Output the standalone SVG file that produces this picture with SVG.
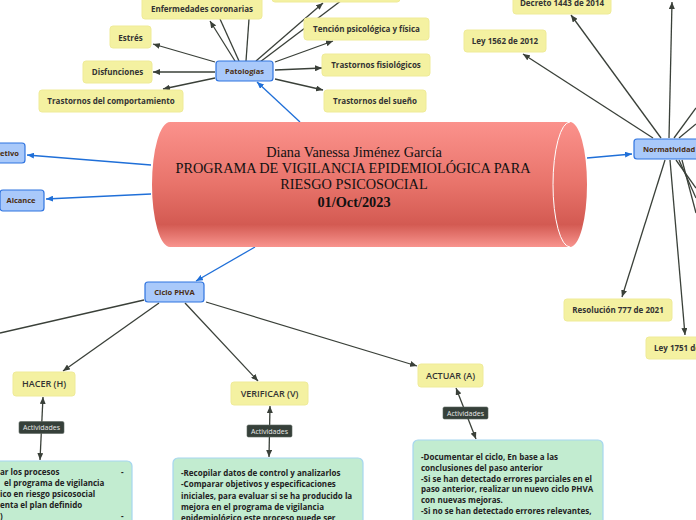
<svg xmlns="http://www.w3.org/2000/svg" width="696" height="520" viewBox="0 0 696 520">
<style>
.y{fill:#f4f1a1;stroke:#efeb98;stroke-width:1}
.b{fill:#a9c9fa;stroke:#2f74e0;stroke-width:1.2}
.g{fill:#c2ecd0;stroke:#a6d6f0;stroke-width:1.2}
.a{fill:#36403a;stroke:#5b655e;stroke-width:0.6}
.ty{font-family:"Open Sans","Noto Sans",sans-serif;font-weight:700;font-size:8px;fill:#333;text-anchor:middle}
.tb{font-family:"Open Sans","Noto Sans",sans-serif;font-weight:700;font-size:7.5px;fill:#4a2c10;text-anchor:middle}
.th{font-family:"Open Sans","Noto Sans",sans-serif;font-weight:600;font-size:9px;fill:#333;text-anchor:middle}
.ta{font-family:"Open Sans","Noto Sans",sans-serif;font-size:7px;fill:#e8e8e8;text-anchor:middle}
.tg{font-family:"Open Sans","Noto Sans",sans-serif;font-weight:700;font-size:8px;fill:#222}
.tc{font-family:"Liberation Serif","Times New Roman",serif;font-size:14.3px;fill:#111;text-anchor:middle}
.dk{stroke:#3a4039;stroke-width:1.3;fill:none}
.bl{stroke:#1f6fd8;stroke-width:1.3;fill:none}
</style>
<defs>
<marker id="ad" markerUnits="userSpaceOnUse" markerWidth="8" markerHeight="6" refX="7" refY="3" orient="auto-start-reverse"><path d="M0,0 L7,3 L0,6 z" fill="#3a4039"/></marker>
<marker id="ab" markerUnits="userSpaceOnUse" markerWidth="8" markerHeight="6" refX="7" refY="3" orient="auto"><path d="M0,0 L7,3 L0,6 z" fill="#1f6fd8"/></marker>
<linearGradient id="cyl" x1="0" y1="0" x2="0" y2="1">
<stop offset="0" stop-color="#fb928c"/>
<stop offset="0.5" stop-color="#e8736a"/>
<stop offset="0.82" stop-color="#d35a52"/>
<stop offset="1" stop-color="#f8948e"/>
</linearGradient>
</defs>

<g id="connectors">
<line class="dk" x1="215" y1="62" x2="153" y2="44" marker-end="url(#ad)"/>
<line class="dk" x1="215" y1="72" x2="153" y2="72" marker-end="url(#ad)"/>
<line class="dk" x1="215" y1="78" x2="163" y2="89" marker-end="url(#ad)"/>
<line class="dk" x1="235" y1="61" x2="210" y2="21" marker-end="url(#ad)"/>
<line class="dk" x1="239" y1="61" x2="220" y2="19"/>
<line class="dk" x1="246" y1="61" x2="249" y2="19"/>
<line class="dk" x1="256" y1="61" x2="323" y2="3" marker-end="url(#ad)"/>
<line class="dk" x1="260" y1="62" x2="342" y2="0"/>
<line class="dk" x1="275" y1="62" x2="333" y2="41" marker-end="url(#ad)"/>
<line class="dk" x1="275" y1="70" x2="322" y2="68" marker-end="url(#ad)"/>
<line class="dk" x1="275" y1="79" x2="323" y2="90" marker-end="url(#ad)"/>

<line class="dk" x1="653" y1="138" x2="523" y2="54" marker-end="url(#ad)"/>
<line class="dk" x1="661" y1="138" x2="571" y2="15" marker-end="url(#ad)"/>
<line class="dk" x1="669" y1="138" x2="672" y2="2" marker-end="url(#ad)"/>
<line class="dk" x1="674" y1="138" x2="696" y2="108"/>
<line class="dk" x1="679" y1="138" x2="696" y2="124"/>
<line class="dk" x1="676" y1="160" x2="696" y2="188"/>
<line class="dk" x1="679" y1="160" x2="696" y2="198"/>
<line class="dk" x1="682" y1="160" x2="696" y2="213"/>
<line class="dk" x1="665" y1="160" x2="622" y2="297" marker-end="url(#ad)"/>
<line class="dk" x1="670" y1="160" x2="685" y2="335" marker-end="url(#ad)"/>

<line class="dk" x1="144" y1="300" x2="0" y2="333"/>
<line class="dk" x1="159" y1="303" x2="63" y2="371" marker-end="url(#ad)"/>
<line class="dk" x1="185" y1="303" x2="258" y2="381" marker-end="url(#ad)"/>
<line class="dk" x1="206" y1="302" x2="417" y2="366" marker-end="url(#ad)"/>

<line class="dk" x1="43" y1="397" x2="40" y2="460" marker-start="url(#ad)" marker-end="url(#ad)"/>
<line class="dk" x1="270" y1="406" x2="269" y2="457" marker-start="url(#ad)" marker-end="url(#ad)"/>
<line class="dk" x1="456" y1="388" x2="476" y2="439" marker-start="url(#ad)" marker-end="url(#ad)"/>

<line class="bl" x1="300" y1="122" x2="257" y2="82" marker-end="url(#ab)"/>
<line class="bl" x1="151" y1="165" x2="27" y2="155" marker-end="url(#ab)"/>
<line class="bl" x1="151" y1="194" x2="46" y2="199" marker-end="url(#ab)"/>
<line class="bl" x1="587" y1="158" x2="632" y2="154" marker-end="url(#ab)"/>
<line class="bl" x1="255" y1="247" x2="196" y2="281" marker-end="url(#ab)"/>
</g>

<g id="center">
<path d="M170,122 L570,122 A17,62.5 0 0 1 570,247 L170,247 A18,62.5 0 0 1 170,122 Z" fill="url(#cyl)"/>
<path d="M570,122 A17,62.5 0 0 0 570,247" fill="none" stroke="#fff" stroke-width="1"/>
<text class="tc" x="354" y="157">Diana Vanessa Jiménez García</text>
<text class="tc" x="353" y="173">PROGRAMA DE VIGILANCIA EPIDEMIOLÓGICA PARA</text>
<text class="tc" x="354" y="189">RIESGO PSICOSOCIAL</text>
<text class="tc" x="354" y="207" font-weight="700" font-size="15.5">01/Oct/2023</text>
</g>

<g id="patologias"><rect class="b" x="216" y="61" width="57" height="20" rx="3"/><text class="tb" x="244.5" y="73.7">Patologías</text></g>
<g id="enfermedades"><rect class="y" x="142" y="-3" width="120" height="22" rx="3"/><text class="ty" x="202" y="12">Enfermedades coronarias</text></g>
<g id="top-node"><rect class="y" x="272" y="-20" width="128" height="22" rx="3"/></g>
<g id="estres"><rect class="y" x="110" y="26" width="41" height="22" rx="3"/><text class="ty" x="130.5" y="40.5">Estrés</text></g>
<g id="disfunciones"><rect class="y" x="83" y="61" width="69" height="22" rx="3"/><text class="ty" x="117.5" y="75">Disfunciones</text></g>
<g id="comportamiento"><rect class="y" x="39" y="90" width="144" height="22" rx="3"/><text class="ty" x="111" y="103.5">Trastornos del comportamiento</text></g>
<g id="tencion"><rect class="y" x="304" y="18" width="125" height="22" rx="3"/><text class="ty" x="366.5" y="32">Tención psicológica y física</text></g>
<g id="fisiologicos"><rect class="y" x="322" y="54" width="108" height="22" rx="3"/><text class="ty" x="376" y="68">Trastornos fisiológicos</text></g>
<g id="sueno"><rect class="y" x="324" y="90" width="102" height="22" rx="3"/><text class="ty" x="375" y="103.5">Trastornos del sueño</text></g>

<g id="objetivo"><rect class="b" x="-20" y="143" width="45" height="20" rx="3"/><text class="tb" x="-13" y="155.7" style="text-anchor:start">Objetivo</text></g>
<g id="alcance"><rect class="b" x="0" y="190" width="44" height="21" rx="3"/><text class="tb" x="21" y="203.3">Alcance</text></g>

<g id="normatividad"><rect class="b" x="634" y="139" width="80" height="20" rx="3"/><text class="tb" x="643" y="151.7" style="text-anchor:start">Normatividad</text></g>
<g id="decreto"><rect class="y" x="513" y="-8" width="98" height="22" rx="3"/><text class="ty" x="562" y="6">Decreto 1443 de 2014</text></g>
<g id="ley1562"><rect class="y" x="464" y="30" width="82" height="22" rx="3"/><text class="ty" x="505" y="44">Ley 1562 de 2012</text></g>
<g id="resolucion"><rect class="y" x="564" y="299" width="108" height="22" rx="3"/><text class="ty" x="618" y="313">Resolución 777 de 2021</text></g>
<g id="ley1751"><rect class="y" x="646" y="337" width="90" height="22" rx="3"/><text class="ty" x="654" y="351" style="text-anchor:start">Ley 1751 de 2015</text></g>

<g id="ciclo"><rect class="b" x="145" y="282" width="59" height="20" rx="3"/><text class="tb" x="174.5" y="294.7">Ciclo PHVA</text></g>

<g id="hacer"><rect class="y" x="13" y="372" width="62" height="24" rx="3"/><text class="th" x="44" y="387.2">HACER (H)</text></g>
<g id="verificar"><rect class="y" x="231" y="382" width="77" height="23" rx="3"/><text class="th" x="269.5" y="396.7">VERIFICAR (V)</text></g>
<g id="actuar"><rect class="y" x="418" y="364" width="65" height="23" rx="3"/><text class="th" x="450.5" y="378.7">ACTUAR (A)</text></g>

<g id="act-hacer"><rect class="a" x="19" y="421.5" width="45" height="12" rx="1.5"/><text class="ta" x="41.5" y="430">Actividades</text></g>
<g id="act-verificar"><rect class="a" x="247" y="425" width="45" height="12" rx="1.5"/><text class="ta" x="269.5" y="433.5">Actividades</text></g>
<g id="act-actuar"><rect class="a" x="443" y="407" width="45" height="12" rx="1.5"/><text class="ta" x="465.5" y="415.5">Actividades</text></g>

<g id="txt-hacer"><rect class="g" x="-80" y="461" width="212" height="80" rx="5"/>
<text class="tg" x="0" y="475">ar los  procesos</text>
<text class="tg" x="121" y="475">-</text>
<text class="tg" x="4" y="486">el programa de vigilancia</text>
<text class="tg" x="0" y="497">ico en riesgo psicosocial</text>
<text class="tg" x="0" y="508">enta el plan definido</text>
<text class="tg" x="0" y="519">)</text>
<text class="tg" x="121" y="519">-</text>
</g>

<g id="txt-verificar"><rect class="g" x="173" y="458" width="190" height="80" rx="5"/>
<text class="tg" x="181" y="476">-Recopilar datos de control y analizarlos</text>
<text class="tg" x="181" y="487">-Comparar  objetivos y especificaciones</text>
<text class="tg" x="181" y="498.5">iniciales, para evaluar si se ha producido la</text>
<text class="tg" x="181" y="509.5">mejora en el programa de vigilancia</text>
<text class="tg" x="181" y="520.5">epidemiológico este proceso puede ser</text>
</g>

<g id="txt-actuar"><rect class="g" x="413" y="440" width="190" height="100" rx="5"/>
<text class="tg" x="421" y="460">-Documentar el ciclo, En base a las</text>
<text class="tg" x="421" y="470.8">conclusiones del paso anterior</text>
<text class="tg" x="421" y="481.6">-Si se han detectado errores parciales en el</text>
<text class="tg" x="421" y="492.4">paso anterior, realizar un nuevo ciclo PHVA</text>
<text class="tg" x="421" y="503.2">con nuevas mejoras.</text>
<text class="tg" x="421" y="514">-Si no se han detectado errores relevantes,</text>
</g>
</svg>
